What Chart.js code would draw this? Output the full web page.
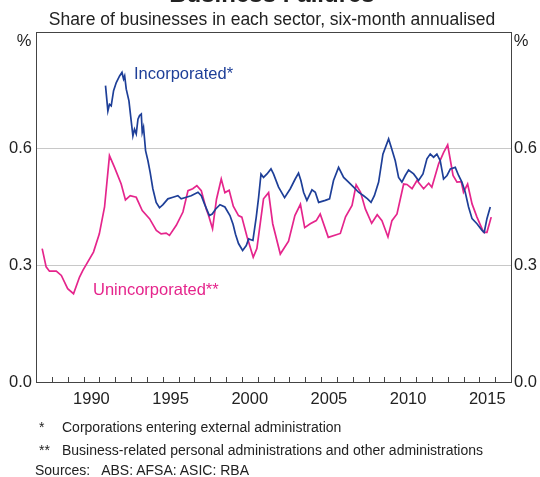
<!DOCTYPE html>
<html>
<head>
<meta charset="utf-8">
<script src="https://cdn.jsdelivr.net/npm/chart.js@4/dist/chart.umd.min.js"></script>
<style>
html,body{margin:0;padding:0;background:#fff;}
#wrap{position:relative;width:540px;height:477px;overflow:hidden;font-family:Arial,"Liberation Sans",sans-serif;color:#222;}
#c{position:absolute;left:0;top:0;}
.t{position:absolute;white-space:nowrap;}
</style>
</head>
<body>
<div id="wrap">
<canvas id="c" width="540" height="477"></canvas>
<div class="t" style="left:0;width:544px;text-align:center;top:-18px;font-size:24px;line-height:24px;font-weight:bold;">Business Failures</div>
<div class="t" style="left:0;width:544px;text-align:center;top:11px;font-size:17.5px;line-height:17.5px;">Share of businesses in each sector, six-month annualised</div>
<div class="t" style="left:39px;top:420px;font-size:14px;line-height:14px;">*</div>
<div class="t" style="left:62px;top:420px;font-size:14px;line-height:14px;">Corporations entering external administration</div>
<div class="t" style="left:39px;top:443px;font-size:14px;line-height:14px;">**</div>
<div class="t" style="left:62px;top:443px;font-size:14px;line-height:14px;">Business-related personal administrations and other administrations</div>
<div class="t" style="left:35px;top:463px;font-size:14px;line-height:14px;">Sources:&nbsp;&nbsp; ABS: AFSA: ASIC: RBA</div>
</div>
<script>
// ---- data ----
const incDates = [1991.39,1991.54,1991.64,1991.75,1991.9,1992.07,1992.28,1992.43,1992.53,1992.6,1992.7,1992.87,1993.01,1993.12,1993.22,1993.33,1993.44,1993.54,1993.65,1993.71,1993.79,1993.92,1994.07,1994.21,1994.38,1994.59,1994.8,1995.02,1995.33,1995.65,1995.96,1996.17,1996.49,1996.8,1997.23,1997.44,1997.64,1997.95,1998.13,1998.35,1998.62,1998.93,1999.25,1999.45,1999.6,1999.79,2000.05,2000.28,2000.43,2000.7,2000.91,2001.06,2001.21,2001.37,2001.59,2001.84,2002.0,2002.32,2002.7,2003.06,2003.37,2003.58,2003.73,2003.9,2004.11,2004.43,2004.64,2004.85,2005.27,2005.54,2005.79,2006.11,2006.43,2006.74,2007.06,2007.37,2007.69,2007.94,2008.16,2008.37,2008.64,2008.91,2009.27,2009.44,2009.69,2009.9,2010.11,2010.32,2010.53,2010.85,2011.16,2011.44,2011.69,2011.9,2012.11,2012.32,2012.53,2012.74,2012.96,2013.17,2013.48,2013.69,2013.9,2014.11,2014.32,2014.54,2014.85,2015.17,2015.31,2015.48,2015.69];
const incValues = [0.762,0.697,0.714,0.71,0.749,0.77,0.787,0.796,0.779,0.787,0.753,0.723,0.672,0.633,0.65,0.638,0.676,0.685,0.689,0.642,0.655,0.595,0.569,0.539,0.497,0.462,0.448,0.456,0.471,0.475,0.479,0.471,0.475,0.479,0.488,0.479,0.458,0.428,0.432,0.445,0.456,0.45,0.428,0.405,0.38,0.356,0.338,0.351,0.368,0.364,0.424,0.475,0.535,0.526,0.535,0.548,0.535,0.501,0.474,0.497,0.522,0.537,0.518,0.488,0.467,0.494,0.488,0.462,0.467,0.471,0.518,0.552,0.526,0.514,0.501,0.488,0.479,0.471,0.462,0.479,0.514,0.586,0.625,0.603,0.569,0.526,0.514,0.531,0.545,0.535,0.518,0.535,0.574,0.586,0.578,0.586,0.569,0.522,0.531,0.548,0.552,0.531,0.514,0.488,0.45,0.42,0.407,0.39,0.385,0.42,0.45];

const unincDates = [1987.39,1987.64,1987.85,1988.28,1988.6,1989.0,1989.37,1989.75,1989.96,1990.63,1991.0,1991.33,1991.64,1991.96,1992.38,1992.65,1992.95,1993.33,1993.71,1994.17,1994.6,1994.9,1995.22,1995.43,1995.86,1996.28,1996.6,1996.9,1997.16,1997.44,1997.75,1997.9,1998.15,1998.4,1998.7,1998.93,1999.2,1999.46,1999.79,2000.0,2000.32,2000.72,2000.95,2001.37,2001.69,2001.95,2002.43,2002.95,2003.35,2003.7,2003.97,2004.32,2004.7,2004.95,2005.46,2006.22,2006.55,2006.96,2007.22,2007.5,2007.8,2008.2,2008.55,2008.85,2009.23,2009.48,2009.8,2010.22,2010.43,2010.75,2011.06,2011.48,2011.8,2012.0,2012.43,2012.74,2013.0,2013.34,2013.59,2013.86,2014.0,2014.26,2014.54,2014.85,2015.27,2015.48,2015.75];
const unincValues = [0.343,0.296,0.285,0.285,0.274,0.24,0.227,0.27,0.287,0.334,0.381,0.45,0.582,0.552,0.509,0.468,0.479,0.475,0.441,0.42,0.39,0.381,0.383,0.377,0.403,0.437,0.492,0.497,0.505,0.492,0.445,0.428,0.394,0.47,0.522,0.487,0.493,0.452,0.428,0.424,0.375,0.321,0.343,0.471,0.487,0.407,0.329,0.362,0.428,0.457,0.397,0.407,0.415,0.432,0.372,0.382,0.425,0.454,0.507,0.488,0.445,0.408,0.43,0.415,0.373,0.415,0.432,0.509,0.508,0.497,0.518,0.497,0.511,0.501,0.561,0.59,0.61,0.531,0.514,0.515,0.488,0.509,0.458,0.424,0.385,0.385,0.424];

const yTicks = [0, 0.3, 0.6, 0.9];
const yearLabels = [1990, 1995, 2000, 2005, 2010, 2015];
const xMin = 1987, xMax = 2017;

const BLUE = '#1e3f98';
const PINK = '#e5258c';
const TXT = '#222';
const AXIS = '#444';
const FONT = 'Arial, "Liberation Sans", sans-serif';

const toXY = (d, v) => d.map((x, i) => ({x: x, y: v[i]}));

const overlay = {
  id: 'overlay',
  afterDraw(chart) {
    const {ctx, chartArea: a, scales} = chart;
    const xs = scales.x;
    ctx.save();
    // top border
    ctx.strokeStyle = AXIS; ctx.lineWidth = 1;
    ctx.beginPath();
    ctx.moveTo(a.left, Math.round(a.top) + 0.5);
    ctx.lineTo(a.right, Math.round(a.top) + 0.5);
    ctx.stroke();
    // inward year ticks
    ctx.beginPath();
    for (let y = xMin + 1; y < xMax; y++) {
      const px = Math.round(xs.getPixelForValue(y)) + 0.5;
      ctx.moveTo(px, a.bottom);
      ctx.lineTo(px, a.bottom - 5);
    }
    ctx.stroke();
    // units
    ctx.fillStyle = TXT;
    ctx.font = '16.5px ' + FONT;
    ctx.textBaseline = 'middle';
    ctx.textAlign = 'center';
    ctx.fillText('%', 24, 41);
    ctx.fillText('%', 521, 41);
    // series labels
    ctx.textAlign = 'left';
    ctx.fillStyle = BLUE;
    ctx.fillText('Incorporated*', 134, 74);
    ctx.fillStyle = PINK;
    ctx.fillText('Unincorporated**', 93, 290);
    ctx.restore();
  }
};

const yCommon = {
  type: 'linear', min: 0, max: 0.9,
  afterBuildTicks: s => { s.ticks = yTicks.map(v => ({value: v})); },
  ticks: {
    color: TXT, font: {size: 16.5, family: FONT},
    callback: v => (v >= 0.89 ? '' : v.toFixed(1))
  },
  border: {display: true, color: AXIS, width: 1}
};

new Chart(document.getElementById('c'), {
  type: 'line',
  data: {
    datasets: [
      {label: 'Incorporated', data: toXY(incDates, incValues), borderColor: BLUE, borderWidth: 1.7, pointRadius: 0, tension: 0, fill: false},
      {label: 'Unincorporated', data: toXY(unincDates, unincValues), borderColor: PINK, borderWidth: 1.7, pointRadius: 0, tension: 0, fill: false}
    ]
  },
  options: {
    responsive: false,
    animation: false,
    devicePixelRatio: 1,
    layout: {padding: {top: 32, left: 0, right: 0, bottom: 0}},
    plugins: {legend: {display: false}, tooltip: {enabled: false}, title: {display: false}},
    scales: {
      x: {
        type: 'linear', min: xMin, max: xMax, position: 'bottom',
        afterBuildTicks: s => { s.ticks = yearLabels.map(y => ({value: y + 0.5})); },
        afterFit: s => { s.height = 95; },
        grid: {display: false, drawTicks: false},
        border: {display: true, color: AXIS, width: 1},
        ticks: {color: TXT, font: {size: 16.5, family: FONT}, padding: 8, maxRotation: 0, autoSkip: false,
          callback: v => String(Math.floor(v))}
      },
      y: Object.assign({}, yCommon, {
        position: 'left',
        afterFit: s => { s.width = 36; },
        grid: {drawTicks: false, color: c => (c.tick && (Math.abs(c.tick.value - 0.3) < 1e-6 || Math.abs(c.tick.value - 0.6) < 1e-6)) ? '#c8c8c8' : 'rgba(0,0,0,0)'},
        ticks: Object.assign({}, yCommon.ticks, {padding: 4})
      }),
      y2: Object.assign({}, yCommon, {
        position: 'right',
        afterFit: s => { s.width = 29; },
        grid: {display: false, drawTicks: false},
        ticks: Object.assign({}, yCommon.ticks, {padding: 3})
      })
    }
  },
  plugins: [overlay]
});
</script>
</body>
</html>
